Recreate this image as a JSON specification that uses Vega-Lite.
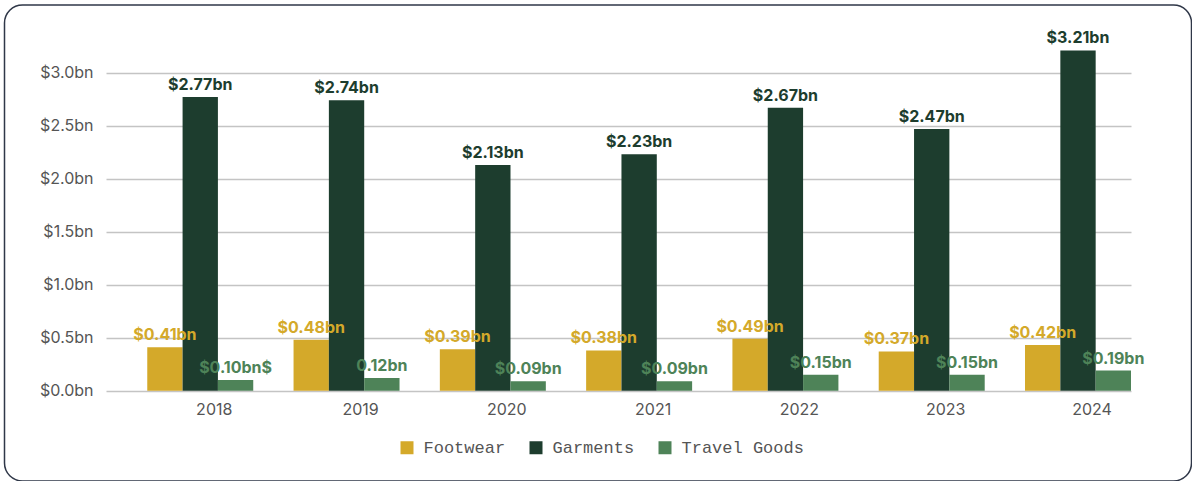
{
  "$schema": "https://vega.github.io/schema/vega-lite/v6.json",
  "autosize": {"type": "none"},
  "padding": {"left": 4.5, "top": 5, "right": 0, "bottom": 0},
  "width": 1187,
  "height": 476,
  "background": "#ffffff",
  "data": {
    "values": [
      {"year": "2018", "category": "Footwear", "value": 0.41, "label": "$0.41bn"},
      {"year": "2018", "category": "Garments", "value": 2.77, "label": "$2.77bn"},
      {"year": "2018", "category": "Travel Goods", "value": 0.10, "label": "$0.10bn$"},
      {"year": "2019", "category": "Footwear", "value": 0.48, "label": "$0.48bn"},
      {"year": "2019", "category": "Garments", "value": 2.74, "label": "$2.74bn"},
      {"year": "2019", "category": "Travel Goods", "value": 0.12, "label": "0.12bn"},
      {"year": "2020", "category": "Footwear", "value": 0.39, "label": "$0.39bn"},
      {"year": "2020", "category": "Garments", "value": 2.13, "label": "$2.13bn"},
      {"year": "2020", "category": "Travel Goods", "value": 0.09, "label": "$0.09bn"},
      {"year": "2021", "category": "Footwear", "value": 0.38, "label": "$0.38bn"},
      {"year": "2021", "category": "Garments", "value": 2.23, "label": "$2.23bn"},
      {"year": "2021", "category": "Travel Goods", "value": 0.09, "label": "$0.09bn"},
      {"year": "2022", "category": "Footwear", "value": 0.49, "label": "$0.49bn"},
      {"year": "2022", "category": "Garments", "value": 2.67, "label": "$2.67bn"},
      {"year": "2022", "category": "Travel Goods", "value": 0.15, "label": "$0.15bn"},
      {"year": "2023", "category": "Footwear", "value": 0.37, "label": "$0.37bn"},
      {"year": "2023", "category": "Garments", "value": 2.47, "label": "$2.47bn"},
      {"year": "2023", "category": "Travel Goods", "value": 0.15, "label": "$0.15bn"},
      {"year": "2024", "category": "Footwear", "value": 0.43, "label": "$0.42bn"},
      {"year": "2024", "category": "Garments", "value": 3.21, "label": "$3.21bn"},
      {"year": "2024", "category": "Travel Goods", "value": 0.19, "label": "$0.19bn"}
    ]
  },
  "encoding": {
    "x": {
      "field": "year",
      "type": "nominal",
      "scale": {"range": [101.5, 1126.5], "paddingInner": 0.2755, "paddingOuter": 0.141, "align": 1},
      "axis": {
        "title": null,
        "offset": -90.3,
        "domain": false,
        "ticks": false,
        "labelAngle": 0,
        "labelOffset": 14,
        "labelPadding": 11,
        "labelFont": "Inter",
        "labelFontSize": 16,
        "labelColor": "#555555"
      }
    },
    "xOffset": {"field": "category", "type": "nominal", "scale": {"paddingInner": 0, "paddingOuter": 0}},
    "y": {
      "field": "value",
      "type": "quantitative",
      "scale": {"domain": [0, 3], "range": [385.7, 67.7], "nice": false, "zero": true},
      "axis": {
        "title": null,
        "offset": -101.5,
        "values": [0, 0.5, 1, 1.5, 2, 2.5, 3],
        "labelExpr": "'$' + format(datum.value, '.1f') + 'bn'",
        "domain": false,
        "ticks": false,
        "labelPadding": 13,
        "labelFont": "Inter",
        "labelFontSize": 16,
        "labelColor": "#555555",
        "gridColor": "#c4c4c4",
        "gridWidth": 1.5
      }
    },
    "color": {
      "field": "category",
      "type": "nominal",
      "scale": {"domain": ["Footwear", "Garments", "Travel Goods"], "range": ["#d4a92a", "#1d3d2e", "#4e8358"]},
      "legend": {
        "title": null,
        "orient": "none",
        "direction": "horizontal",
        "legendX": 394,
        "legendY": 434,
        "symbolType": "square",
        "symbolSize": 169,
        "symbolStrokeWidth": 0,
        "symbolOpacity": 1,
        "labelFont": "Liberation Mono",
        "labelFontSize": 17,
        "labelColor": "#555555",
        "labelOffset": 8,
        "columnPadding": 22
      }
    }
  },
  "layer": [
    {"mark": {"type": "bar", "opacity": 1}},
    {
      "mark": {"type": "text", "align": "center", "baseline": "alphabetic", "dy": -7, "font": "Inter", "fontSize": 16, "fontWeight": "bold"},
      "encoding": {"text": {"field": "label"}}
    }
  ],
  "config": {
    "view": {"stroke": "#2f3748", "strokeWidth": 1.5, "cornerRadius": 18},
    "axis": {"grid": false},
    "axisY": {"grid": true}
  }
}
